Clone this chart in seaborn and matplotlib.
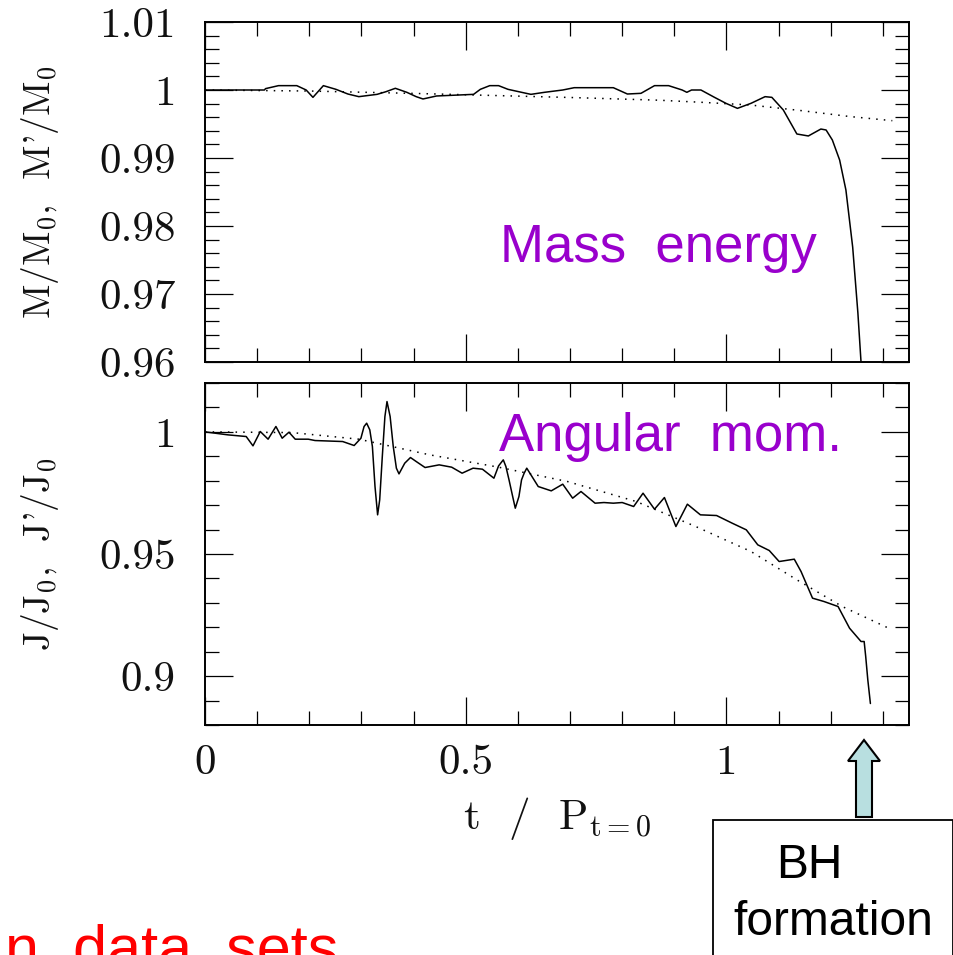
import matplotlib
matplotlib.use("Agg")
import matplotlib.pyplot as plt
import matplotlib.patches as mpatches
from matplotlib.ticker import FixedLocator, FixedFormatter, MultipleLocator
import seaborn as sns

# ---------------- data ----------------
t_mass = [0, 0.114, 0.116, 0.141, 0.176, 0.194, 0.207, 0.227, 0.251, 0.274, 0.295,
          0.330, 0.347, 0.365, 0.387, 0.405, 0.418, 0.444, 0.515, 0.528, 0.546,
          0.563, 0.581, 0.607, 0.625, 0.651, 0.686, 0.708, 0.783, 0.810, 0.836,
          0.862, 0.889, 0.915, 0.924, 0.933, 0.951, 0.977, 0.999, 1.021, 1.047,
          1.074, 1.087, 1.109, 1.135, 1.157, 1.181, 1.191, 1.203, 1.217, 1.229,
          1.242, 1.252, 1.258]
m_mass = [1.0, 1.0, 1.0002, 1.00064, 1.00064, 1.0, 0.99892, 1.00064, 1.0001, 0.99941,
          0.99902, 0.99936, 0.99975, 1.00025, 0.99966, 0.99902, 0.99868, 0.99912,
          0.99936, 1.0001, 1.00064, 1.00064, 1.0001, 0.99966, 0.99936, 0.99966,
          1.0, 1.00034, 1.00034, 0.99941, 0.99951, 1.00064, 1.00064, 1.0, 0.99966,
          1.0, 1.0, 0.99892, 0.99804, 0.9973, 0.99804, 0.99902, 0.99892, 0.99706,
          0.99353, 0.99324, 0.99426, 0.99412, 0.99265, 0.9897, 0.9853, 0.9769,
          0.9672, 0.96]

t_mass_dot = [0, 0.2, 0.4, 0.52, 0.7, 0.87, 0.95, 1.045, 1.14, 1.236, 1.318]
m_mass_dot = [1.0, 0.99985, 0.9995, 0.99926, 0.9989, 0.9985, 0.9982, 0.9978,
              0.9970, 0.9961, 0.99549]

t_ang = [0, 0.044, 0.079, 0.092, 0.106, 0.121, 0.136, 0.148, 0.161, 0.173, 0.198,
         0.211, 0.264, 0.286, 0.299, 0.305, 0.310, 0.316, 0.321, 0.326, 0.331,
         0.335, 0.340, 0.345, 0.349, 0.355, 0.361, 0.367, 0.372, 0.383, 0.394,
         0.405, 0.422, 0.449, 0.473, 0.493, 0.514, 0.532, 0.554, 0.563, 0.572,
         0.577, 0.583, 0.590, 0.595, 0.602, 0.607, 0.612, 0.617, 0.639, 0.664,
         0.686, 0.705, 0.721, 0.748, 0.765, 0.783, 0.800, 0.822, 0.840, 0.862,
         0.881, 0.903, 0.925, 0.950, 0.981, 1.011, 1.038, 1.060, 1.082, 1.101,
         1.130, 1.143, 1.165, 1.187, 1.214, 1.236, 1.258, 1.264, 1.267, 1.271,
         1.276]
j_ang = [1.0, 0.99877, 0.99809, 0.99427, 1.00014, 0.997, 1.0022, 0.9974, 0.99986,
         0.997, 0.997, 0.99645, 0.99604, 0.99441, 0.9974, 1.00218, 1.00355,
         1.00082, 0.9940, 0.97762, 0.96603, 0.97217, 0.9899, 1.00628, 1.0124,
         1.00628, 0.9940, 0.98513, 0.9828, 0.98717, 0.98949, 0.98786, 0.9854,
         0.98649, 0.98554, 0.98308, 0.98513, 0.98472, 0.98103, 0.98608, 0.98854,
         0.98581, 0.98035, 0.97353, 0.96875, 0.97353, 0.98035, 0.98308, 0.98513,
         0.97762, 0.97585, 0.97858, 0.97285, 0.97558, 0.9708, 0.97107, 0.9708,
         0.97107, 0.96944, 0.97489, 0.96834, 0.97312, 0.96125, 0.97039, 0.96603,
         0.96575, 0.96261, 0.95989, 0.95375, 0.95143, 0.94692, 0.94788, 0.94283,
         0.93192, 0.93055, 0.9285, 0.91963, 0.91418, 0.91418, 0.908, 0.8985,
         0.8888]

t_ang_dot = [0, 0.167, 0.295, 0.431, 0.563, 0.695, 0.827, 0.941, 1.047, 1.135,
             1.222, 1.315]
j_ang_dot = [1.0, 0.9997, 0.997, 0.99059, 0.98554, 0.97967, 0.97148, 0.96125,
             0.95102, 0.93942, 0.9285, 0.91923]

x_ticks = [0, 0.5, 1]
x_ticklabels = ["0", "0.5", "1"]
m_ticks = [0.96, 0.97, 0.98, 0.99, 1.0, 1.01]
m_ticklabels = ["0.96", "0.97", "0.98", "0.99", "1", "1.01"]
j_ticks = [0.9, 0.95, 1.0]
j_ticklabels = ["0.9", "0.95", "1"]

# ---------------- style ----------------
sns.set_theme(style="ticks")
plt.rcParams["font.family"] = ["cmr10", "DejaVu Serif"]
plt.rcParams["mathtext.fontset"] = "cm"
plt.rcParams["axes.unicode_minus"] = False

W, H = 954, 955
fig = plt.figure(figsize=(W / 100, H / 100), dpi=100)
fig.patch.set_facecolor("white")

ax1 = fig.add_axes([205 / W, 1 - 362 / H, 704 / W, 340 / H])
ax2 = fig.add_axes([205 / W, 1 - 725 / H, 704 / W, 342 / H])

solid_kw = dict(color="black", linewidth=1.1, estimator=None, sort=False)
dot_kw = dict(color="black", linewidth=1.1, estimator=None, sort=False)

sns.lineplot(x=t_mass, y=m_mass, ax=ax1, **solid_kw)
sns.lineplot(x=t_mass_dot, y=m_mass_dot, ax=ax1, linestyle=(0, (1, 4)), **dot_kw)
sns.lineplot(x=t_ang, y=j_ang, ax=ax2, **solid_kw)
sns.lineplot(x=t_ang_dot, y=j_ang_dot, ax=ax2, linestyle=(0, (1, 4)), **dot_kw)

ax1.set_xlim(0, 1.35)
ax1.set_ylim(0.96, 1.01)
ax2.set_xlim(0, 1.35)
ax2.set_ylim(0.88, 1.02)

for ax in (ax1, ax2):
    ax.set_facecolor("white")
    for s in ax.spines.values():
        s.set_color("black")
        s.set_linewidth(1.4)
    ax.xaxis.set_major_locator(FixedLocator(x_ticks))
    ax.xaxis.set_minor_locator(MultipleLocator(0.1))
    ax.tick_params(which="both", direction="in", top=True, right=True,
                   bottom=True, left=True, color="black", width=0.9,
                   labelsize=31, labelcolor="#111111")
    ax.tick_params(which="major", length=20)
    ax.tick_params(which="minor", length=10)
    ax.tick_params(axis="y", which="major", pad=21)
    ax.tick_params(axis="x", which="major", pad=14)

ax1.yaxis.set_major_locator(FixedLocator(m_ticks))
ax1.yaxis.set_major_formatter(FixedFormatter(m_ticklabels))
ax1.yaxis.set_minor_locator(MultipleLocator(0.002))
ax1.tick_params(axis="x", labelbottom=False)

ax2.yaxis.set_major_locator(FixedLocator(j_ticks))
ax2.yaxis.set_major_formatter(FixedFormatter(j_ticklabels))
ax2.yaxis.set_minor_locator(MultipleLocator(0.01))
ax2.xaxis.set_major_formatter(FixedFormatter(x_ticklabels))

ax1.set_xlabel("")
ax1.set_ylabel(r"M/M$_{0}$,  M'/M$_{0}$", fontsize=27, color="#111111")
ax1.yaxis.set_label_coords(-0.205, 0.5)
ax2.set_ylabel(r"J/J$_{0}$,  J'/J$_{0}$", fontsize=27, color="#111111")
ax2.yaxis.set_label_coords(-0.205, 0.5)
ax2.set_xlabel(r"t  /  P$_{\mathrm{t=0}}$", fontsize=31, color="#111111")
ax2.xaxis.set_label_coords(0.5, -0.205)

purple = "#9900CC"
fig.text(500 / W, 1 - 262 / H, "Mass  energy", color=purple, fontsize=38,
         family="Liberation Sans", ha="left", va="baseline")
fig.text(499 / W, 1 - 451 / H, "Angular  mom.", color=purple, fontsize=38,
         family="Liberation Sans", ha="left", va="baseline")

# red caption, cut by the bottom/left edge as in the reference
fig.text(338 / W, 1 - 968 / H, "n  data  sets", color="#FF0000", fontsize=44,
         family="Liberation Sans", ha="right", va="baseline")

# BH formation box and arrow
box = mpatches.Rectangle((7.13, -0.2), 2.40, 1.55, transform=fig.dpi_scale_trans,
                         facecolor="white", edgecolor="black", linewidth=1.3)
fig.patches.append(box)
arrow = mpatches.FancyArrow(8.64, 1.38, 0, 0.77, width=0.16, head_width=0.32,
                            head_length=0.21, length_includes_head=True,
                            transform=fig.dpi_scale_trans, facecolor="#B8DFE0",
                            edgecolor="black", linewidth=1.5)
fig.patches.append(arrow)
fig.text(809 / W, 1 - 878 / H, "BH", fontsize=34.5, family="Liberation Sans",
         color="black", ha="center", va="baseline")
fig.text(833 / W, 1 - 935 / H, "formation", fontsize=34.5, family="Liberation Sans",
         color="black", ha="center", va="baseline")

fig.savefig("out.png", dpi=100, facecolor="white")
